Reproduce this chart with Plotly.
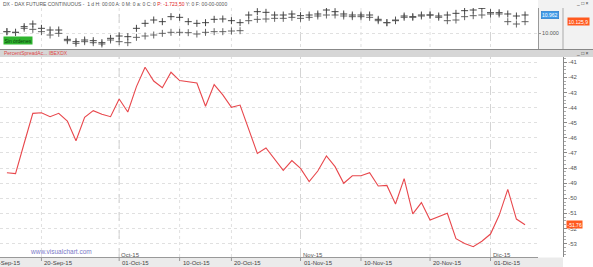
import pandas as pd
import plotly.graph_objects as go

# ---------------- data ----------------
dates = pd.bdate_range("2015-09-14", "2015-12-07")

spread = [-48.31, -48.37, -46.36, -44.38, -44.34, -44.60, -44.38, -44.89, -46.19, -44.64,
          -44.20, -44.44, -44.60, -43.43, -44.29, -42.61, -41.33, -42.24, -42.68, -41.66,
          -42.21, -42.30, -42.37, -43.91, -42.48, -43.16, -43.98, -43.83, -45.48, -47.03,
          -46.67, -47.42, -48.15, -47.51, -48.02, -48.90, -48.20, -47.20, -47.91, -49.01,
          -48.51, -48.51, -48.31, -49.19, -49.15, -50.38, -48.70, -51.04, -50.29, -51.44,
          -51.22, -51.00, -52.68, -52.99, -53.21, -52.85, -52.37, -51.13, -49.41, -51.38,
          -51.76]

dax = [10071, 10036, 10338, 10481, 10249, 10160, 10160, 9662, 9537, 9626,
       9591, 9484, 9715, 9840, 9804, 10249, 10516, 10694, 10605, 10872,
       10837, 10605, 10516, 10552, 10730, 10748, 10659, 10552, 10961, 11139,
       11104, 10961, 10961, 11015, 10926, 10961, 11015, 11228, 11139, 11015,
       10961, 10961, 10961, 10730, 10552, 10659, 10908, 10872, 10961, 10961,
       10908, 10961, 11050, 11193, 11228, 11317, 11086, 11086, 11015, 10908,
       10962]

second = [9592, 9556, 9770, 9716, 9592, 9414, 9503, 9111, 8969, 9058,
          9004, 8933, 9147, 9058, 9004, 9289, 9361, 9414, 9503, 9556,
          9556, 9539, 9467, 9556, 9592, 9592, 9627, 9645, 10179, 10250,
          10268, 10304, 10304, 10357, 10304, 10357, 10428, 10482, 10482, 10428,
          10393, 10393, 10357, 10179, 10072, 10215, 10357, 10357, 10428, 10482,
          10357, 10179, 10215, 10393, 10446, 10482, 10535, 10535, 10126, 10001,
          10125.9]

tick_dates = ["2015-09-20", "2015-10-01", "2015-10-10", "2015-10-20",
              "2015-11-01", "2015-11-10", "2015-11-20", "2015-12-01"]
tick_labels = ["20-Sep-15", "01-Oct-15", "10-Oct-15", "20-Oct-15",
               "01-Nov-15", "10-Nov-15", "20-Nov-15", "01-Dic-15"]
first_tick_label = "10-Sep-15"
month_dates = ["2015-10-01", "2015-11-01", "2015-12-01"]
month_labels = ["Oct-15", "Nov-15", "Dic-15"]
y_ticks = [-41, -42, -43, -44, -45, -46, -47, -48, -49, -50, -51, -52, -53]
top_ticks = [10000]
top_tick_labels = ["10.000"]

# ---------------- layout helpers ----------------
W, H = 593, 267
def px(x):
    return x / W
def py(y):
    return 1 - y / H

FONT = "Liberation Sans, Arial, sans-serif"
xr = ["2015-09-11 04:48", "2015-12-08 12:00"]
breaks = [dict(bounds=["sat", "mon"])]

fig = go.Figure()

fig.add_trace(go.Scatter(x=dates, y=spread, mode="lines",
                         line=dict(color="#e8474c", width=1.1),
                         xaxis="x", yaxis="y", showlegend=False))
fig.add_trace(go.Scatter(x=dates, y=dax, mode="markers",
                         marker=dict(symbol="cross-thin", size=5,
                                     line=dict(width=0.9, color="#333")),
                         xaxis="x2", yaxis="y2", showlegend=False))
fig.add_trace(go.Scatter(x=dates, y=second, mode="markers",
                         marker=dict(symbol="cross-thin", size=5,
                                     line=dict(width=0.9, color="#555")),
                         xaxis="x2", yaxis="y3", showlegend=False))

fig.update_layout(
    width=W, height=H,
    margin=dict(l=0, r=0, t=0, b=0),
    paper_bgcolor="white", plot_bgcolor="white",
    font=dict(family=FONT, size=6, color="#555"),
    xaxis=dict(domain=[0, px(538)], anchor="y", type="date", range=xr,
               rangebreaks=breaks, showticklabels=False, ticks="",
               showgrid=False, showline=True, linecolor="#999", linewidth=1,
               zeroline=False),
    yaxis=dict(domain=[10 / H, 210 / H], anchor="free", position=px(563),
               side="right", range=[-53.89, -40.65], tickmode="array",
               tickvals=y_ticks, ticktext=[str(v) for v in y_ticks],
               ticks="outside", ticklen=3, tickcolor="#888",
               showline=True, linecolor="#888", linewidth=1,
               minor=dict(tick0=0, dtick=0.25, ticks="outside", ticklen=2,
                          tickcolor="#aaa", showgrid=False),
               showgrid=True, gridcolor="#e0e0e0", griddash="dot", gridwidth=1,
               tickfont=dict(size=6, color="#555"), zeroline=False),
    xaxis2=dict(domain=[0, px(538)], anchor="y2", type="date", range=xr,
                rangebreaks=breaks, matches="x", showticklabels=False, ticks="",
                showgrid=False, showline=False, zeroline=False),
    yaxis2=dict(domain=[py(49), py(8)], anchor="free", position=px(538),
                side="right", range=[9145.6, 11335], tickmode="array",
                tickvals=top_ticks, ticktext=top_tick_labels,
                ticks="outside", ticklen=2, tickcolor="#999",
                showline=True, linecolor="#999", linewidth=1,
                showgrid=True, gridcolor="#e0e0e0", griddash="dot", gridwidth=1,
                tickfont=dict(size=5.5, color="#555"), zeroline=False),
    yaxis3=dict(overlaying="y2", anchor="free", position=px(538), side="right",
                range=[8666.6, 10856], visible=False),
)

shapes = []
# top right axis panel
shapes.append(dict(type="rect", xref="paper", yref="paper", x0=px(538), x1=1,
                   y0=py(49), y1=1, fillcolor="#f2f2f2", line=dict(width=0),
                   layer="below"))
shapes.append(dict(type="line", xref="paper", yref="paper", x0=px(563), x1=px(563),
                   y0=py(49), y1=py(8), line=dict(color="#aaa", width=1)))
# dotted vertical grid at every date tick, plus tick marks
for d in tick_dates:
    shapes.append(dict(type="line", xref="x", yref="paper", x0=d, x1=d,
                       y0=py(257), y1=py(8),
                       line=dict(color="#e0e0e0", width=1, dash="dot"),
                       layer="below"))
    shapes.append(dict(type="line", xref="x", yref="paper", x0=d, x1=d,
                       y0=py(258), y1=py(261),
                       line=dict(color="#999", width=1)))
# month dashed lines
for d in month_dates:
    shapes.append(dict(type="line", xref="x", yref="paper", x0=d, x1=d,
                       y0=py(257), y1=py(8),
                       line=dict(color="#d4d4d4", width=1, dash="dash"),
                       layer="below"))
# separator band
shapes.append(dict(type="rect", xref="paper", yref="paper", x0=0, x1=1,
                   y0=py(57), y1=py(49), fillcolor="#d6d6d6",
                   line=dict(width=0)))
shapes.append(dict(type="line", xref="paper", yref="paper", x0=0, x1=1,
                   y0=py(49.5), y1=py(49.5), line=dict(color="#888", width=1)))
# bottom axis band
shapes.append(dict(type="rect", xref="paper", yref="paper", x0=0, x1=px(563),
                   y0=0, y1=py(257.5), fillcolor="#ebebeb", line=dict(width=0),
                   layer="below"))
fig.update_layout(shapes=shapes)

ann = []
ann.append(dict(xref="paper", yref="paper", x=px(1), y=py(3.5), xanchor="left",
                yanchor="middle", showarrow=False,
                text="DX - DAX FUTURE CONTINUOUS -  1 d H: 00:00 A: 0 M: 0 a: 0 C: 0 "
                     "<span style='color:#e02020'>P: -1.723,50</span> Y: 0 F: 00-00-0000",
                font=dict(size=5, color="#555")))
ann.append(dict(xref="paper", yref="paper", x=px(3), y=py(40), xanchor="left",
                yanchor="middle", showarrow=False, text="Sin órdenes",
                bgcolor="#2fb52f", borderpad=0.5,
                font=dict(size=5, color="#0b3d0b")))
ann.append(dict(xref="paper", yref="paper", x=px(2), y=py(53), xanchor="left",
                yanchor="middle", showarrow=False,
                text="PercentSpreadAc... IBEXDX",
                font=dict(size=5, color="#e04848")))
for yy in (3, 53):
    ann.append(dict(xref="paper", yref="paper", x=px(591), y=py(yy),
                    xanchor="right", yanchor="middle", showarrow=False,
                    text="_ □ ×", font=dict(size=5, color="#333")))
ann.append(dict(xref="paper", yref="y2", x=px(541), y=dax[-1], xanchor="left",
                yanchor="middle", showarrow=False, text="10.962",
                bgcolor="#3f9be8", bordercolor="#1f6fc0", borderwidth=0.5,
                borderpad=0.5, font=dict(size=5, color="white")))
ann.append(dict(xref="paper", yref="y3", x=px(567), y=second[-1], xanchor="left",
                yanchor="middle", showarrow=False, text="10.125,9",
                bgcolor="#ff5a1f", borderpad=0.5, font=dict(size=5, color="white")))
ann.append(dict(xref="paper", yref="y", x=px(566), y=spread[-1], xanchor="left",
                yanchor="middle", showarrow=False, text=f"{spread[-1]:.2f}",
                bgcolor="#ff5a1f", borderpad=0.5, font=dict(size=5, color="white")))
# x tick labels (left-aligned at their tick, as in the reference)
for d, t in zip(tick_dates, tick_labels):
    ann.append(dict(xref="x", yref="paper", x=d, y=py(262.5), xanchor="left",
                    yanchor="middle", xshift=1, showarrow=False, text=t,
                    font=dict(size=6, color="#444")))
for d, t in zip(month_dates, month_labels):
    ann.append(dict(xref="x", yref="paper", x=d, y=py(254.5), xanchor="left",
                    yanchor="middle", showarrow=False, text=t,
                    font=dict(size=6, color="#555")))
ann.append(dict(xref="paper", yref="paper", x=px(-10.4), y=py(262.5),
                xanchor="left", yanchor="middle", showarrow=False,
                text=first_tick_label, font=dict(size=6, color="#444")))
ann.append(dict(xref="paper", yref="paper", x=px(28), y=py(251.5),
                xanchor="left", yanchor="middle", showarrow=False,
                text="www.visualchart.com", font=dict(size=6.5, color="#7a7ac8")))
fig.update_layout(annotations=ann)

fig.write_html("out.html")
